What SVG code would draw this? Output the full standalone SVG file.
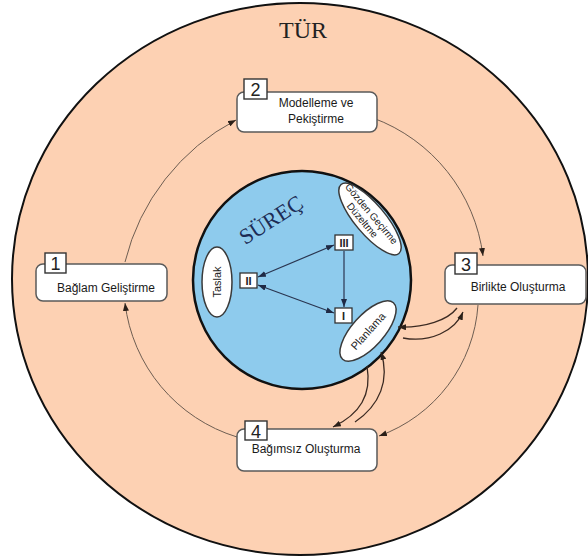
<svg xmlns="http://www.w3.org/2000/svg" width="588" height="557" viewBox="0 0 588 557">
<style>
.box{fill:#fff;stroke:#5a5a5a;stroke-width:1.5}
.num{fill:#fff;stroke:#333;stroke-width:1.4}
.numt{font-family:"Liberation Sans",Arial,sans-serif;font-size:18px;fill:#222;text-anchor:middle}
.lbl{font-family:"Liberation Sans",Arial,sans-serif;font-size:12px;fill:#1a1a1a;text-anchor:middle}
.ell{fill:#fff;stroke:#3a3a3a;stroke-width:1.5}
.elt{font-family:"Liberation Sans",Arial,sans-serif;font-size:11px;fill:#222;text-anchor:middle}
.rom{fill:#fff;stroke:#333;stroke-width:1.3}
.romt{font-family:"Liberation Sans",Arial,sans-serif;font-size:11px;font-weight:bold;fill:#222;text-anchor:middle}
.orbit{fill:none;stroke:#6e5e52;stroke-width:1}
.cur{fill:none;stroke:#3b2a22;stroke-width:1.3}
.inner{fill:none;stroke:#2a3550;stroke-width:1.2}
</style>
<defs>
<marker id="ah" markerUnits="userSpaceOnUse" markerWidth="8" markerHeight="6" refX="8" refY="3" orient="auto"><path d="M0,0 L8,3 L0,6 z" fill="#2b2019"/></marker>
<marker id="ahb" markerUnits="userSpaceOnUse" markerWidth="8" markerHeight="6" refX="8" refY="3" orient="auto-start-reverse"><path d="M0,0 L8,3 L0,6 z" fill="#1f2a45"/></marker>
</defs>
<rect width="588" height="557" fill="#fff"/>
<ellipse id="tur" cx="300" cy="279" rx="288" ry="276" fill="#fdd1b3" stroke="#111" stroke-width="2"/>
<text x="303" y="38" font-family="Liberation Serif,'DejaVu Serif',serif" font-size="24" fill="#222" text-anchor="middle">TÜR</text>
<g id="surec">
<circle cx="302" cy="280" r="109" fill="#8ecbed" stroke="#111" stroke-width="2.5"/>
<text transform="translate(275,226) rotate(-33)" font-family="Liberation Serif,'DejaVu Serif',serif" font-size="22" fill="#1c2b55" text-anchor="middle">SÜREÇ</text>
</g>
<g id="connectors">
<path class="orbit" d="M125,262 A220,220 0 0 1 236,120" marker-end="url(#ah)"/>
<path class="orbit" d="M373,118 A170,170 0 0 1 483,256" marker-end="url(#ah)"/>
<path class="orbit" d="M478,305 A150,150 0 0 1 379,436" marker-end="url(#ah)"/>
<path class="orbit" d="M237,437 A160,160 0 0 1 125,303" marker-end="url(#ah)"/>
<path class="cur" d="M403,338 C430,343 455,331 463,312" marker-end="url(#ah)"/>
<path class="cur" d="M457,308 C448,320 425,328 398,327" marker-end="url(#ah)"/>
<path class="cur" d="M367,366 C372,395 360,414 333,427" marker-end="url(#ah)"/>
<path class="cur" d="M355,422 C380,405 390,380 381,352" marker-end="url(#ah)"/>
<path class="inner" d="M334,245 L258,277" marker-start="url(#ahb)" marker-end="url(#ahb)"/>
<path class="inner" d="M258,285 L334,313" marker-start="url(#ahb)" marker-end="url(#ahb)"/>
<path class="inner" d="M344,251 L344,307" marker-end="url(#ahb)"/>
</g>
<g id="taslak">
<ellipse class="ell" cx="217" cy="282" rx="15" ry="35"/>
<text class="elt" transform="translate(221,282) rotate(-90)">Taslak</text>
</g>
<g id="gozden">
<g transform="translate(370,219) rotate(50)">
<ellipse class="ell" cx="0" cy="0" rx="45" ry="15"/>
<text class="elt" style="font-size:10px" x="-3" y="-1">Gözden Geçirme</text>
<text class="elt" style="font-size:10px" x="-4" y="10">Düzeltme</text>
</g>
</g>
<g id="planlama">
<g transform="translate(368,331) rotate(-48)">
<ellipse class="ell" cx="0" cy="0" rx="38" ry="16"/>
<text class="elt" x="0" y="4">Planlama</text>
</g>
</g>
<g id="rIII"><rect class="rom" x="335" y="235" width="18" height="15"/><text class="romt" x="344" y="247">III</text></g>
<g id="rII"><rect class="rom" x="240" y="273" width="17" height="15"/><text class="romt" x="248.5" y="285">II</text></g>
<g id="rI"><rect class="rom" x="335" y="308" width="17" height="15"/><text class="romt" x="343.5" y="320">I</text></g>
<g id="b1">
<rect class="box" x="36" y="264" width="131" height="37" rx="7"/>
<rect class="num" x="45" y="253" width="21" height="20"/>
<text class="numt" x="55.5" y="270">1</text>
<text class="lbl" x="106" y="292">Bağlam Geliştirme</text>
</g>
<g id="b2">
<rect class="box" x="237" y="92" width="140" height="40" rx="7"/>
<rect class="num" x="244" y="79" width="23" height="20"/>
<text class="numt" x="255.5" y="96">2</text>
<text class="lbl" x="316" y="107">Modelleme ve</text>
<text class="lbl" x="316" y="123">Pekiştirme</text>
</g>
<g id="b3">
<rect class="box" x="445" y="265" width="141" height="39" rx="7"/>
<rect class="num" x="455" y="253" width="22" height="21"/>
<text class="numt" x="466" y="271">3</text>
<text class="lbl" x="518" y="291">Birlikte Oluşturma</text>
</g>
<g id="b4">
<rect class="box" x="237" y="429" width="140" height="42" rx="7"/>
<rect class="num" x="245" y="421" width="22" height="19"/>
<text class="numt" x="256" y="438">4</text>
<text class="lbl" x="306" y="453">Bağımsız Oluşturma</text>
</g>
</svg>
